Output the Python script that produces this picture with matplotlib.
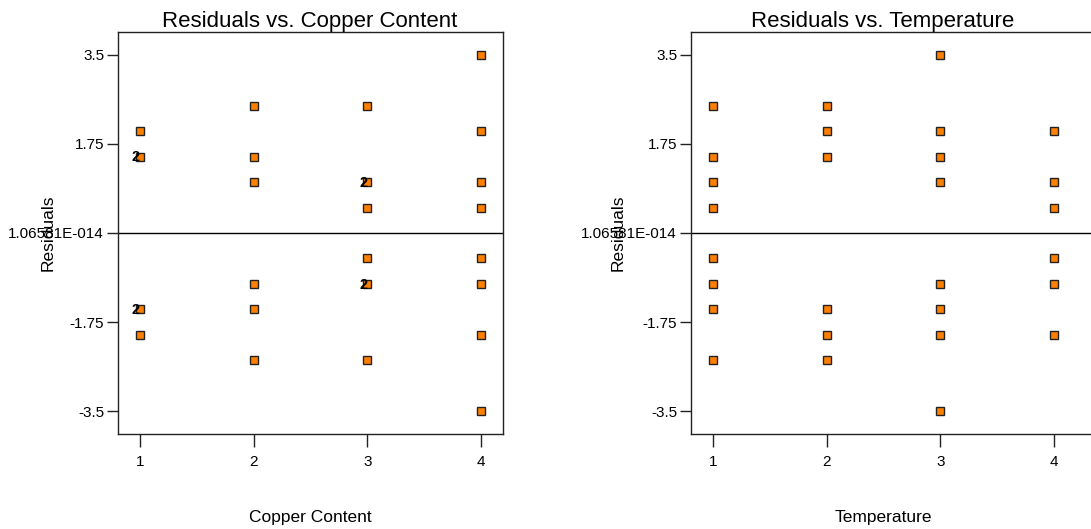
import matplotlib
matplotlib.use('Agg')
import matplotlib.pyplot as plt

plt.rcParams['font.family'] = ['Liberation Sans', 'DejaVu Sans']

# Residuals (duplicates listed twice)
copper_x = [1, 1, 1, 1, 1, 1,
            2, 2, 2, 2, 2, 2,
            3, 3, 3, 3, 3, 3, 3, 3,
            4, 4, 4, 4, 4, 4, 4, 4]
copper_res = [2.0, 1.5, 1.5, -1.5, -1.5, -2.0,
              2.5, 1.5, 1.0, -1.0, -1.5, -2.5,
              2.5, 1.0, 1.0, 0.5, -0.5, -1.0, -1.0, -2.5,
              3.5, 2.0, 1.0, 0.5, -0.5, -1.0, -2.0, -3.5]

temp_x = [1, 1, 1, 1, 1, 1, 1, 1,
          2, 2, 2, 2, 2, 2,
          3, 3, 3, 3, 3, 3, 3, 3,
          4, 4, 4, 4, 4, 4]
temp_res = [2.5, 1.5, 1.0, 0.5, -0.5, -1.0, -1.5, -2.5,
            2.5, 2.0, 1.5, -1.5, -2.0, -2.5,
            3.5, 2.0, 1.5, 1.0, -1.0, -1.5, -2.0, -3.5,
            2.0, 1.0, 0.5, -0.5, -1.0, -2.0]

levels = [1, 2, 3, 4]
yticks = [-3.5, -1.75, 1.0658e-14, 1.75, 3.5]
ytick_labels = ['-3.5', '-1.75', '1.06581E-014', '1.75', '3.5']

W, H = 1091, 529
fig = plt.figure(figsize=(W / 100, H / 100), dpi=100)


def make_panel(left_px, right_px, x, y, title, xlabel, center_px, ylabel_px):
    width_px = right_px - left_px
    ax = fig.add_axes([left_px / W, (H - 434) / H, width_px / W, (434 - 32) / H])
    # same horizontal scale in both panels: 113.7 px per level, 22 px margin
    scale = 113.7
    x0 = 1 - 22 / scale
    ax.set_xlim(x0, x0 + width_px / scale)
    ax.set_ylim(-3.95, 3.95)

    ax.axhline(0, color='black', lw=1.0, zorder=1)

    # count duplicates so the "2" labels can be placed
    counts = {}
    for xi, yi in zip(x, y):
        counts[(xi, yi)] = counts.get((xi, yi), 0) + 1
    pts = list(counts.keys())
    ax.plot([p[0] for p in pts], [p[1] for p in pts], ls='none', marker='s',
            ms=5.5, mfc='#ff8000', mec='#222222', mew=1.0, zorder=3)
    for (xi, yi), n in counts.items():
        if n > 1:
            ax.annotate(str(n), (xi, yi), xytext=(0, -0.5), textcoords='offset points',
                        ha='right', va='center', fontsize=10.5, fontweight='bold', zorder=4)

    ax.set_xticks(levels)
    ax.set_xticklabels([str(v) for v in levels])
    ax.set_yticks(yticks)
    ax.set_yticklabels(ytick_labels)
    ax.tick_params(axis='x', direction='out', length=9, width=1, pad=6, labelsize=11,
                   color='#222222')
    ax.tick_params(axis='y', direction='out', length=8, width=1, pad=2, labelsize=11,
                   color='#222222')

    for s in ax.spines.values():
        s.set_linewidth(1.0)
        s.set_color('#222222')

    cx = (center_px - left_px) / width_px
    ax.set_title(title, fontsize=16, x=cx, pad=2)
    ax.set_xlabel(xlabel, fontsize=12.5)
    ax.xaxis.set_label_coords(cx, -0.19)
    ax.set_ylabel('Residuals', fontsize=12.5)
    ax.yaxis.set_label_coords((ylabel_px - left_px) / width_px, 0.5)
    return ax


make_panel(118, 503, copper_x, copper_res, 'Residuals vs. Copper Content',
           'Copper Content', 310, 56)
make_panel(691, 1110, temp_x, temp_res, 'Residuals vs. Temperature',
           'Temperature', 883, 626)

fig.savefig('out.png', dpi=100)
